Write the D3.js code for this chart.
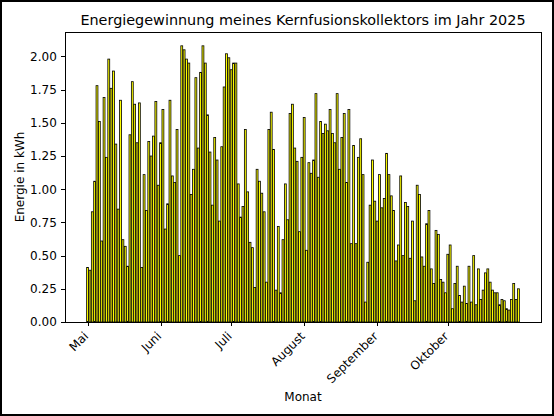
<!DOCTYPE html>
<html lang="de">
<head>
<meta charset="UTF-8">
<title>Kernfusionskollektor</title>
<script src="https://d3js.org/d3.v7.min.js"></script>
<style>
    body { margin: 0; background: #fff; }
    svg text { font-family: "DejaVu Sans", sans-serif; fill: #000; }
    .axis path, .axis line { stroke: #000; shape-rendering: crispEdges; }
    .bar { fill: #ffff00; stroke: #000; stroke-width: 0.8; }
</style>
</head>
<body>
<script>
var width = 554, height = 416;
var margin = {top: 32, right: 13, bottom: 94, left: 65};

// Tageswerte 1. Mai bis 31. Oktober 2025
var startDay = "2025-05-01";
var energy = [
    // Mai
    0.41, 0.39, 0.83, 1.06, 1.78, 1.51, 0.61, 1.69, 1.24, 1.98,
    1.76, 1.89, 1.34, 0.85, 1.67, 0.62, 0.57, 0.42, 1.41, 1.81,
    1.64, 1.35, 1.65, 0.41, 1.11, 0.84, 1.36, 1.25, 1.40, 1.66, 1.03,
    // Juni
    1.35, 1.60, 0.70, 0.89, 1.67, 1.10, 1.05, 1.45, 0.50, 2.08,
    2.05, 1.98, 1.95, 0.96, 1.15, 1.84, 1.31, 1.88, 2.08, 1.95,
    1.56, 1.28, 0.88, 1.39, 1.22, 0.76, 1.32, 1.77, 2.02, 1.99,
    // Juli
    1.90, 1.95, 1.95, 1.04, 0.79, 0.87, 1.45, 0.98, 0.60, 0.56,
    0.26, 1.15, 1.06, 0.97, 0.83, 0.30, 1.45, 1.58, 1.30, 0.24,
    0.72, 0.22, 0.62, 1.04, 0.77, 1.57, 1.64, 1.31, 1.21, 0.68, 1.24,
    // August
    1.54, 0.54, 1.20, 1.12, 1.22, 1.72, 1.09, 1.51, 1.42, 1.49,
    1.44, 1.60, 1.42, 1.35, 1.72, 1.15, 1.39, 1.57, 1.05, 1.60,
    0.59, 1.33, 0.59, 1.24, 1.38, 1.11, 0.15, 0.45, 0.88, 1.22, 0.91,
    // September
    0.76, 1.11, 0.86, 0.93, 1.27, 1.11, 0.95, 0.84, 0.46, 0.58,
    1.10, 0.50, 0.90, 0.87, 0.48, 0.76, 0.16, 1.03, 0.96, 0.49,
    0.42, 0.74, 0.84, 0.40, 0.29, 0.69, 0.66, 0.32, 0.30, 0.22,
    // Oktober
    0.51, 0.58, 0.10, 0.29, 0.42, 0.20, 0.15, 0.27, 0.14, 0.42,
    0.15, 0.50, 0.13, 0.40, 0.17, 0.24, 0.37, 0.40, 0.30, 0.24,
    0.22, 0.22, 0.13, 0.17, 0.16, 0.10, 0.09, 0.17, 0.29, 0.17, 0.25
];
var monthTicks = ["2025-05-01", "2025-06-01", "2025-07-01", "2025-08-01", "2025-09-01", "2025-10-01"];
var monthLabels = ["Mai", "Juni", "Juli", "August", "September", "Oktober"];
var yTicks = [0, 0.25, 0.5, 0.75, 1.0, 1.25, 1.5, 1.75, 2.0];

var parse = d3.timeParse("%Y-%m-%d");
var day0 = parse(startDay);
var days = energy.map(function(v, i) { return d3.timeDay.offset(day0, i); });

var svg = d3.select("body").append("svg")
    .attr("width", width)
    .attr("height", height);

// Rahmen der Abbildung
svg.append("rect")
    .attr("x", 1).attr("y", 1)
    .attr("width", width - 2).attr("height", height - 2)
    .attr("fill", "#fff").attr("stroke", "#000").attr("stroke-width", 2);

var plotW = width - margin.left - margin.right;
var plotH = height - margin.top - margin.bottom;
var g = svg.append("g").attr("transform", "translate(" + margin.left + "," + margin.top + ")");

// Balkenbreite 0.8 Tage, 5% Rand wie matplotlib
var dayMs = 864e5;
var lo = +days[0] - 0.4 * dayMs, hi = +days[days.length - 1] + 0.4 * dayMs;
var pad = (hi - lo) * 0.05;
var x = d3.scaleTime()
    .domain([new Date(lo - pad), new Date(hi + pad)])
    .range([0, plotW]);

var y = d3.scaleLinear()
    .domain([0, d3.max(energy) * 1.05])
    .range([plotH, 0]);

var barW = x(new Date(+days[0] + 0.8 * dayMs)) - x(days[0]);

g.selectAll(".bar")
    .data(energy)
    .enter().append("rect")
    .attr("class", "bar")
    .attr("x", function(d, i) { return x(days[i]) - barW / 2; })
    .attr("y", function(d) { return y(d); })
    .attr("width", barW)
    .attr("height", function(d) { return plotH - y(d); });

// Achsen
var xAxis = d3.axisBottom(x)
    .tickValues(monthTicks.map(parse))
    .tickFormat(function(d, i) { return monthLabels[i]; })
    .tickSize(4.2).tickPadding(4);

var xg = g.append("g")
    .attr("class", "axis")
    .attr("transform", "translate(0," + plotH + ")")
    .call(xAxis);
xg.select(".domain").remove();
xg.selectAll("text")
    .attr("font-size", 12)
    .attr("text-anchor", "end")
    .attr("dy", null)
    .attr("y", null)
    .attr("transform", "translate(1,15) rotate(-45)");

var yg = g.append("g")
    .attr("class", "axis")
    .call(d3.axisLeft(y).tickValues(yTicks).tickFormat(d3.format(".2f")).tickSize(4.2).tickPadding(4));
yg.select(".domain").remove();
yg.selectAll("text").attr("font-size", 12);

// Rahmen des Plotbereichs
g.append("rect")
    .attr("width", plotW).attr("height", plotH)
    .attr("fill", "none").attr("stroke", "#000").attr("stroke-width", 1)
    .attr("shape-rendering", "crispEdges");

// Beschriftungen
svg.append("text")
    .attr("x", margin.left + plotW / 2).attr("y", 25)
    .attr("text-anchor", "middle").attr("font-size", 14.4)
    .text("Energiegewinnung meines Kernfusionskollektors im Jahr 2025");

svg.append("text")
    .attr("x", margin.left + plotW / 2).attr("y", 401)
    .attr("text-anchor", "middle").attr("font-size", 12)
    .text("Monat");

svg.append("text")
    .attr("transform", "translate(24," + (margin.top + plotH / 2) + ") rotate(-90)")
    .attr("text-anchor", "middle").attr("font-size", 12)
    .text("Energie in kWh");
</script>
</body>
</html>
